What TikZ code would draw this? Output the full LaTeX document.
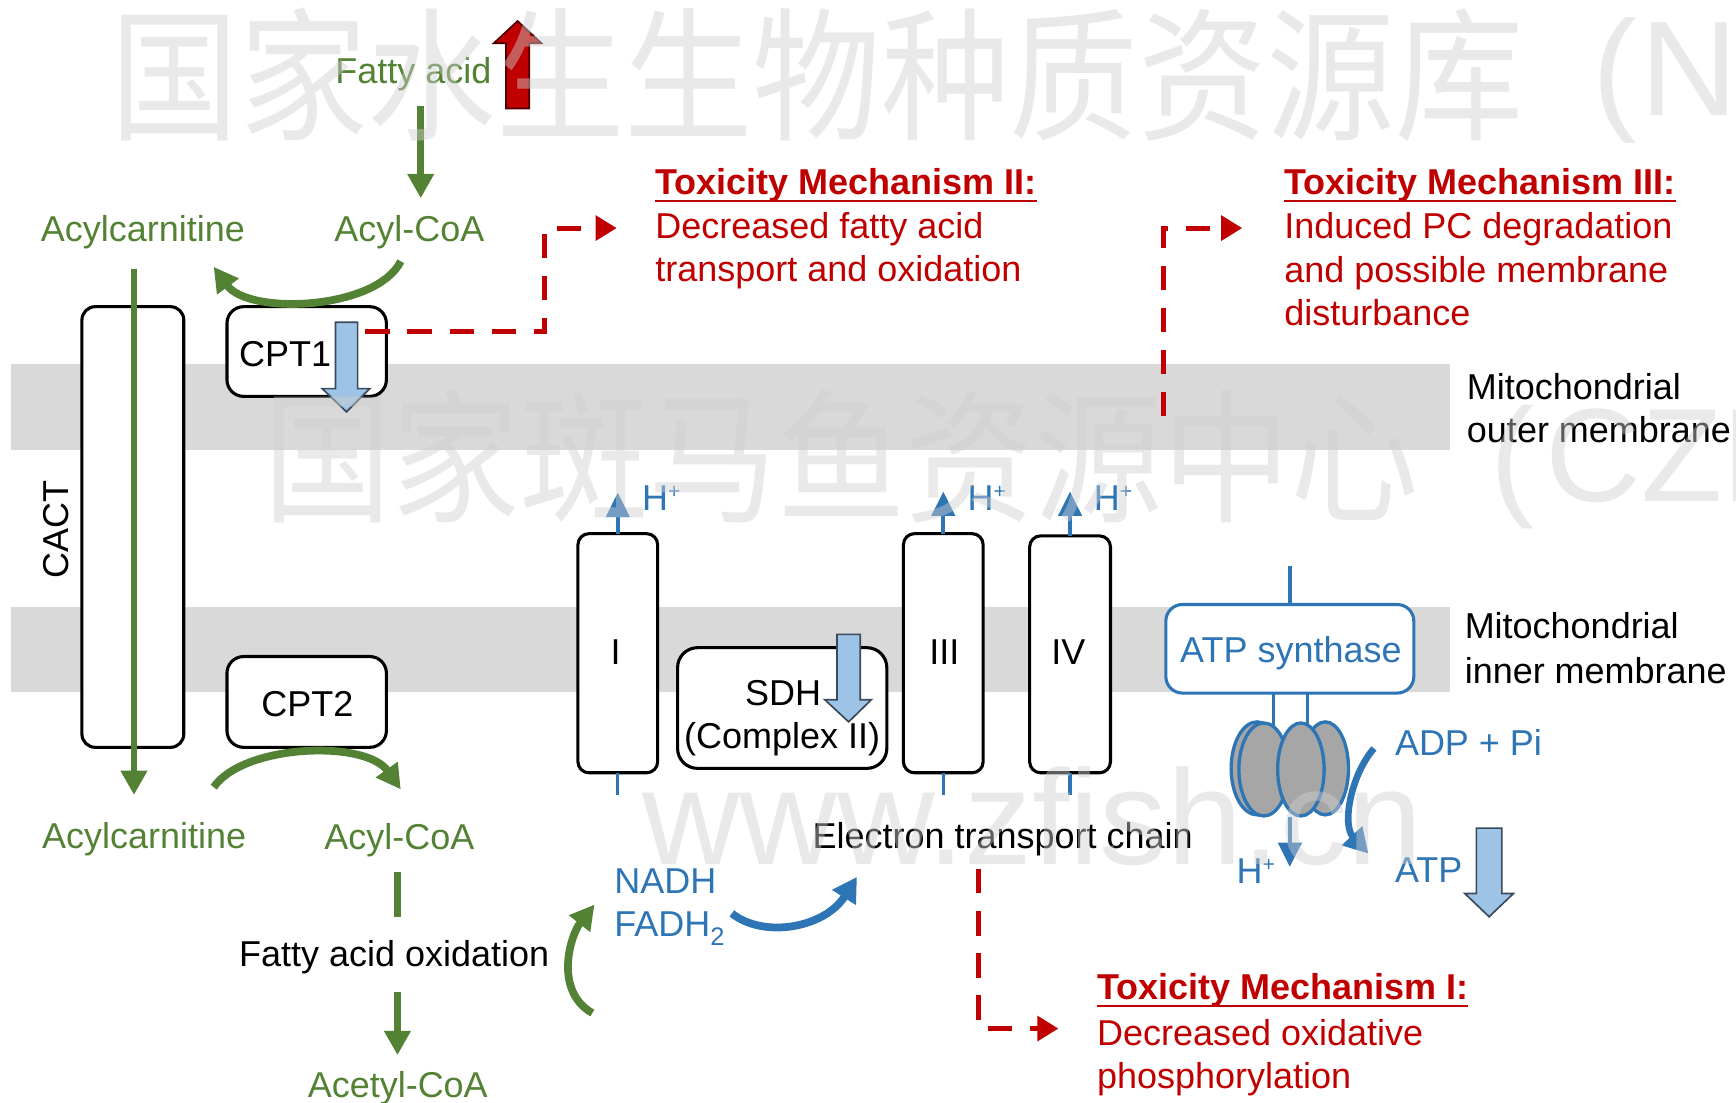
\documentclass[tikz,border=0pt]{standalone}
\usepackage{fontspec}
\setmainfont{Liberation Sans}
\newfontfamily\wmcjk{Noto Sans CJK SC}
\usetikzlibrary{arrows.meta}
\definecolor{pathgreen}{HTML}{548235}
\definecolor{toxred}{HTML}{C00000}
\definecolor{etcblue}{HTML}{2E75B6}
\definecolor{paleblue}{HTML}{9DC3E6}
\definecolor{blockedge}{HTML}{3B4A5A}
\definecolor{redge}{HTML}{4A0000}
\definecolor{membrane}{HTML}{D9D9D9}
\definecolor{headgray}{HTML}{A6A6A6}
\definecolor{wmgray}{HTML}{CFCFCF}

\begin{document}
\begin{tikzpicture}[x=1pt,y=-1pt,
  every node/.style={inner sep=0pt,outer sep=0pt},
  txt/.style={anchor=base west,font=\fontsize{32.5}{40}\selectfont},
  gtxt/.style={txt,text=pathgreen},
  btxt/.style={txt,text=etcblue},
  rtxt/.style={txt,text=toxred},
  ktxt/.style={txt,text=black},
  rtitle/.style={txt,text=toxred,font=\fontsize{32.5}{40}\selectfont\bfseries},
  ctr/.style={anchor=center,font=\fontsize{32.5}{40}\selectfont},
  protbox/.style={draw=black,line width=2.8pt,fill=white,rounded corners=#1},
  protbox/.default=12pt,
  garrow/.style={draw=pathgreen,line width=6.5pt,-{Triangle[length=22pt,width=23pt]}},
  gline/.style={draw=pathgreen,line width=6.5pt},
  barrow/.style={draw=etcblue,line width=3.5pt,-{Triangle[length=22pt,width=21pt]}},
  bline/.style={draw=etcblue,line width=3pt},
  bcurve/.style={draw=etcblue,line width=7pt,-{Triangle[length=22pt,width=24pt]}},
  reddash/.style={draw=toxred,line width=4.5pt,dash pattern=on 22pt off 16pt,-{Triangle[length=19pt,width=22pt]}},
  paleblock/.style={fill=paleblue,draw=blockedge,line width=1.5pt},
  redblock/.style={fill=toxred,draw=redge,line width=1.5pt},
  f1disc/.style={fill=headgray,draw=etcblue,line width=3pt},
  wm/.style={text=wmgray,opacity=0.45}
]
\useasboundingbox (0,0) rectangle (1568,996);

% membranes
\fill[membrane] (10,329) rectangle (1310,406);
\fill[membrane] (10,548) rectangle (1310,625);

% transport proteins and respiratory complexes
\node[protbox,minimum width=92pt,minimum height=398pt] (cactbox) at (120,476) {};
\node[protbox=15pt,minimum width=144pt,minimum height=81pt] (cpt1box) at (277,317.5) {};
\node[protbox=15pt,minimum width=144pt,minimum height=82pt] (cpt2box) at (277,634) {};
\node[protbox=10pt,minimum width=72pt,minimum height=216pt] (cI) at (558,590) {};
\node[protbox=18pt,minimum width=189pt,minimum height=109pt] (sdh) at (706.5,639.5) {};
\node[protbox=10pt,minimum width=72pt,minimum height=216pt] (cIII) at (852,590) {};
\node[protbox=10pt,minimum width=73pt,minimum height=214pt] (cIV) at (966.5,591) {};
\node[protbox=15pt,draw=etcblue,minimum width=224pt,minimum height=80pt] (atps) at (1165,586) {};

% box labels
\node[ctr,rotate=90] (tCACT) at (51,478) {CACT};
\node[ktxt] (tCPT1) at (216,331) {CPT1};
\node[ktxt] (tCPT2) at (236,647) {CPT2};
\node[ctr] (tI) at (556,589) {I};
\node[ctr] (tIII) at (853,589) {III};
\node[ctr] (tIV) at (965,589) {IV};
\node[ktxt] (tSDH) at (673,637) {SDH};
\node[ktxt] (tCII) at (618,676) {(Complex II)};
\node[btxt] (tATPS) at (1066,598) {ATP synthase};

% ATP synthase stalk and head
\coordinate (atpTop) at (1165,511);
\draw[bline] (atps.north) -- (atpTop);
\draw[bline] ([xshift=-15pt]atps.south) -- ++(0,45);
\draw[bline] ([xshift=16pt]atps.south) -- ++(0,45);
\path[f1disc] (1135.5,694) ellipse [x radius=23.5pt,y radius=42pt];
\path[f1disc] (1197,694) ellipse [x radius=21pt,y radius=42pt];
\path[f1disc] (1141.5,695) ellipse [x radius=22.5pt,y radius=42pt];
\path[f1disc] (1175,695) ellipse [x radius=21pt,y radius=42pt];
\coordinate (hdS) at (1165,738);
\coordinate (hdE) at (1165,783);
\draw[barrow] (hdS) -- (hdE);
\coordinate (adpS) at (1241,676);
\coordinate (adpE) at (1236,771);
\draw[bcurve,line width=6pt] (adpS) .. controls (1220,700) and (1212,745) .. (adpE);

% proton pumping
\coordinate (hpI) at (558,445);
\coordinate (hpIII) at (852,444);
\coordinate (hpIV) at (966.5,444);
\draw[barrow] (cI.north) -- (hpI);
\draw[barrow] (cIII.north) -- (hpIII);
\draw[barrow] (cIV.north) -- (hpIV);
\draw[bline] (cI.south) -- ++(0,20);
\draw[bline] (cIII.south) -- ++(0,20);
\draw[bline] (cIV.south) -- ++(0,20);
\node[btxt] (hI) at (580,461) {H\raisebox{11pt}{\fontsize{19}{19}\selectfont +}};
\node[btxt] (hIII) at (874,461) {H\raisebox{11pt}{\fontsize{19}{19}\selectfont +}};
\node[btxt] (hIV) at (988,461) {H\raisebox{11pt}{\fontsize{19}{19}\selectfont +}};
\node[btxt] (hOut) at (1117,798) {H\raisebox{11pt}{\fontsize{19}{19}\selectfont +}};

% fatty acid pathway labels
\node[gtxt] (tFA) at (303,75) {Fatty acid};
\node[gtxt] (tAcTop) at (37,218) {Acylcarnitine};
\node[gtxt] (tCoATop) at (302,218) {Acyl-CoA};
\node[gtxt] (tAcBot) at (38,766) {Acylcarnitine};
\node[gtxt] (tCoABot) at (293,767) {Acyl-CoA};
\node[ktxt] (tFAO) at (216,873) {Fatty acid oxidation};
\node[gtxt] (tAcetyl) at (278,991) {Acetyl-CoA};

% fatty acid pathway arrows
\coordinate (faS) at (380,96);
\coordinate (faE) at (380,179);
\draw[garrow] (faS) -- (faE);
\coordinate (c1S) at (362,236);
\coordinate (c1E) at (193,241);
\draw[garrow,line width=7pt] (c1S) .. controls (340,280) and (225,285) .. (c1E);
\coordinate (cactS) at (121,243);
\coordinate (cactE) at (121,718);
\draw[garrow,line width=5.5pt] (cactS) -- (cactE);
\coordinate (c2S) at (193,711);
\coordinate (c2E) at (362,713);
\draw[garrow,line width=7pt] (c2S) .. controls (220,672) and (330,668) .. (c2E);
\coordinate (oxA) at (359,788);
\coordinate (oxB) at (359,828);
\draw[gline] (oxA) -- (oxB);
\coordinate (oxC) at (359,896);
\coordinate (oxD) at (359,953);
\draw[garrow] (oxC) -- (oxD);
\coordinate (c3S) at (535,915);
\coordinate (c3E) at (537,817);
\draw[garrow,line width=7pt] (c3S) .. controls (500,895) and (515,845) .. (c3E);

% reducing equivalents into the chain
\node[btxt] (tNADH) at (555,807) {NADH};
\node[btxt] (tFADH) at (555,846) {FADH\raisebox{-8pt}{\fontsize{23}{23}\selectfont 2}};
\node[ktxt] (tETC) at (734,766) {Electron transport chain};
\coordinate (nfS) at (661,825);
\coordinate (nfE) at (774,792);
\draw[bcurve] (nfS) .. controls (690,848) and (745,838) .. (nfE);

% ADP / ATP
\node[btxt] (tADP) at (1260,682) {ADP + Pi};
\node[btxt] (tATP) at (1260,797) {ATP};

% membrane labels
\node[ktxt] (tOM1) at (1325,361) {Mitochondrial};
\node[ktxt] (tOM2) at (1325,400) {outer membrane};
\node[ktxt] (tIM1) at (1323,577) {Mitochondrial};
\node[ktxt] (tIM2) at (1323,617) {inner membrane};

% change indicators
\draw[redblock] (457,98) -- (478,98) -- (478,39) -- (489,39) -- (467.5,19) -- (446,39) -- (457,39) -- cycle;
\draw[paleblock] (303,291) -- (323,291) -- (323,351) -- (334,351) -- (313,372) -- (291,351) -- (303,351) -- cycle;
\draw[paleblock] (756,573) -- (777,573) -- (777,632) -- (787,632) -- (766.5,652) -- (745,632) -- (756,632) -- cycle;
\draw[paleblock] (1333.5,748) -- (1356.5,748) -- (1356.5,807) -- (1367,807) -- (1345,828) -- (1323,807) -- (1333.5,807) -- cycle;

% toxicity mechanisms
\node[rtitle] (tIIh) at (592,176) {Toxicity Mechanism II:};
\node[rtxt] (tIIa) at (592,215) {Decreased fatty acid};
\node[rtxt] (tIIb) at (592,254.5) {transport and oxidation};
\node[rtitle] (tIIIh) at (1160,176) {Toxicity Mechanism III:};
\node[rtxt] (tIIIa) at (1160,215) {Induced PC degradation};
\node[rtxt] (tIIIb) at (1160,255) {and possible membrane};
\node[rtxt] (tIIIc) at (1160,294) {disturbance};
\node[rtitle] (tIh) at (991,903) {Toxicity Mechanism I:};
\node[rtxt] (tIa) at (991,944) {Decreased oxidative};
\node[rtxt] (tIb) at (991,983) {phosphorylation};
\foreach \t in {tIIh,tIIIh,tIh}
  \draw[toxred,line width=2pt] ([yshift=-5.5pt]\t.base west) -- ([yshift=-5.5pt]\t.base east);

\coordinate (d2S) at (330,299);
\coordinate (d2E) at (557,206);
\draw[reddash] (d2S) -- (492,299) |- (d2E);
\coordinate (d3S) at (1051,376);
\coordinate (d3E) at (1122,206);
\draw[reddash] (d3S) |- (d3E);
\coordinate (d1S) at (884,785);
\coordinate (d1E) at (956,929);
\draw[reddash] (d1S) |- (d1E);

% watermark
\begin{scope}
\clip (0,0) rectangle (1568,996);
\node[wm,anchor=base west,font=\wmcjk\fontsize{116}{116}\selectfont] (wmA) at (100,117) {\scalebox{1}[1.12]{国家水生生物种质资源库}};
\node[wm,anchor=base west,font=\fontsize{122}{122}\selectfont] (wmAp) at (1438,104) {(};
\node[wm,anchor=base west,font=\fontsize{122}{122}\selectfont] (wmAn) at (1482,104) {N};
\node[wm,anchor=base west,font=\wmcjk\fontsize{116}{116}\selectfont] (wmB) at (238,462) {\scalebox{1}[1.12]{国家斑马鱼资源中心}};
\node[wm,anchor=base west,font=\fontsize{120}{120}\selectfont] (wmBp) at (1346,453) {(};
\node[wm,anchor=base west,font=\fontsize{120}{120}\selectfont] (wmBc) at (1396,453) {CZR};
\node[wm,anchor=base west,font=\fontsize{122}{122}\selectfont] (wmC) at (580,781) {www.zfish.cn};
\end{scope}
\end{tikzpicture}
\end{document}
